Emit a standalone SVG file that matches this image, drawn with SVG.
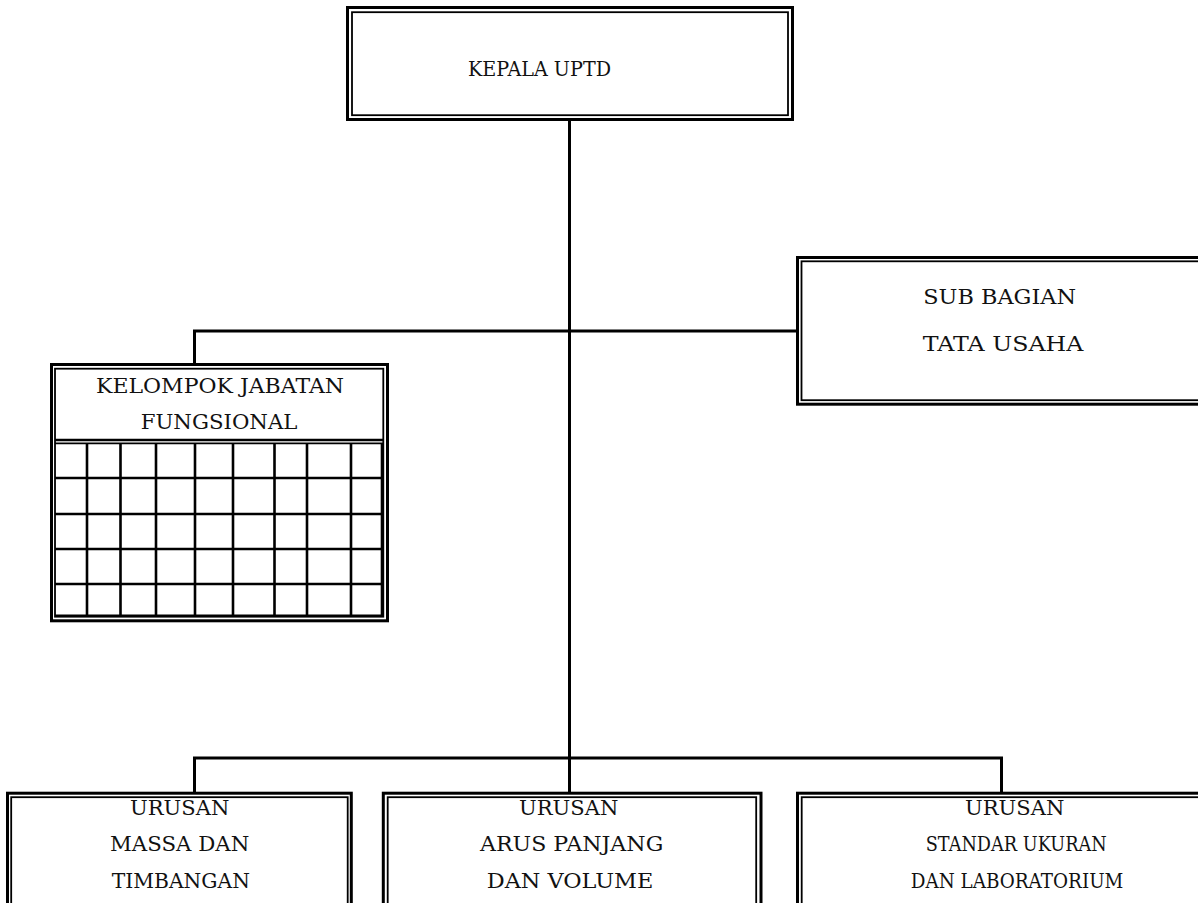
<svg xmlns="http://www.w3.org/2000/svg" width="1198" height="903" viewBox="0 0 1198 903">
<style>
.o{fill:none;stroke:#000;stroke-width:3}
.i{fill:none;stroke:#000;stroke-width:1.8}
.g{fill:none;stroke:#000;stroke-width:2.6}
.c{fill:none;stroke:#000;stroke-width:3}
text{font-family:"DejaVu Serif","Liberation Serif",serif;font-size:20px;fill:#111}
</style>
<rect width="1198" height="903" fill="#fff"/>
<g id="connectors">
<path class="c" d="M569.5 120V758"/>
<path class="c" d="M194.5 364V331H797"/>
<path class="c" d="M194.5 793V758H1001.5V793"/>
<path class="c" d="M569.5 758V793"/>
</g>
<g id="kepala">
<rect class="o" x="347.5" y="7.5" width="445" height="112"/>
<rect class="i" x="352" y="12.2" width="436" height="103"/>
<text x="468" y="76" textLength="143" lengthAdjust="spacingAndGlyphs">KEPALA UPTD</text>
</g>
<g id="subbagian">
<rect class="o" x="797.5" y="257.5" width="420" height="146.7"/>
<rect class="i" x="801.5" y="261.3" width="420" height="138.9"/>
<text x="923.3" y="304" textLength="152.7" lengthAdjust="spacingAndGlyphs">SUB BAGIAN</text>
<text x="922.7" y="350.5" textLength="160.7" lengthAdjust="spacingAndGlyphs">TATA USAHA</text>
</g>
<g id="fungsional">
<rect class="o" x="51.5" y="364.5" width="336" height="256.3"/>
<rect class="i" x="55" y="368.7" width="328.3" height="248"/>
<path class="g" d="M55 440H383"/>
<path class="i" d="M55 443.4H383" stroke-width="1.4"/>
<path class="g" d="M55 478H382M55 514H382M55 549H382M55 584H382M55 615.8H382"/>
<path class="g" d="M87 443.4V616M120.5 443.4V616M156 443.4V616M195 443.4V616M233 443.4V616M274.5 443.4V616M307 443.4V616M351 443.4V616M382 443.4V616"/>
<text x="96" y="393" textLength="248" lengthAdjust="spacingAndGlyphs">KELOMPOK JABATAN</text>
<text x="140.7" y="428.5" textLength="156.7" lengthAdjust="spacingAndGlyphs">FUNGSIONAL</text>
</g>
<g id="massa">
<rect class="o" x="7.5" y="793.2" width="343.8" height="120"/>
<rect class="i" x="11.2" y="797.2" width="336.5" height="120"/>
<text x="130" y="814.5" textLength="99.3" lengthAdjust="spacingAndGlyphs">URUSAN</text>
<text x="110" y="850.5" textLength="139.3" lengthAdjust="spacingAndGlyphs">MASSA DAN</text>
<text x="111.7" y="888" textLength="138.3" lengthAdjust="spacingAndGlyphs">TIMBANGAN</text>
</g>
<g id="arus">
<rect class="o" x="383.3" y="793.2" width="377.7" height="120"/>
<rect class="i" x="387.7" y="797.2" width="368.5" height="120"/>
<text x="519" y="814.5" textLength="99.3" lengthAdjust="spacingAndGlyphs">URUSAN</text>
<text x="480" y="850.5" textLength="183.3" lengthAdjust="spacingAndGlyphs">ARUS PANJANG</text>
<text x="486.7" y="888" textLength="166.7" lengthAdjust="spacingAndGlyphs">DAN VOLUME</text>
</g>
<g id="standar">
<rect class="o" x="797.5" y="793.2" width="420" height="120"/>
<rect class="i" x="801.7" y="797.2" width="420" height="120"/>
<text x="965" y="814.5" textLength="99.3" lengthAdjust="spacingAndGlyphs">URUSAN</text>
<text x="925.7" y="850.5" textLength="181" lengthAdjust="spacingAndGlyphs">STANDAR UKURAN</text>
<text x="910.7" y="888" textLength="212.7" lengthAdjust="spacingAndGlyphs">DAN LABORATORIUM</text>
</g>
</svg>
